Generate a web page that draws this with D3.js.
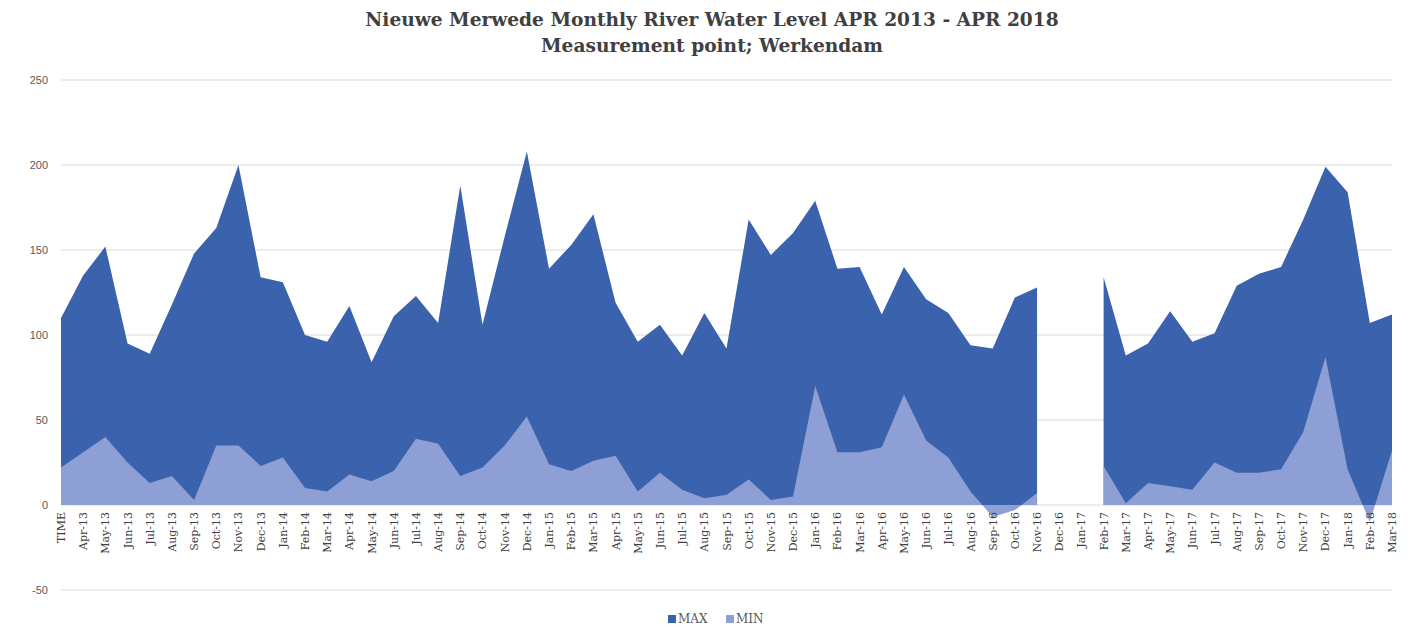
<!DOCTYPE html>
<html>
<head>
<meta charset="utf-8">
<script src="https://cdn.jsdelivr.net/npm/d3@7"></script>
<style>
  html, body { margin: 0; padding: 0; background: #ffffff; }
  svg { display: block; }
</style>
</head>
<body>
<svg id="chart" width="1413" height="627"></svg>
<script>
const categories = ["TIME","Apr-13","May-13","Jun-13","Jul-13","Aug-13","Sep-13","Oct-13","Nov-13","Dec-13",
  "Jan-14","Feb-14","Mar-14","Apr-14","May-14","Jun-14","Jul-14","Aug-14","Sep-14","Oct-14","Nov-14","Dec-14",
  "Jan-15","Feb-15","Mar-15","Apr-15","May-15","Jun-15","Jul-15","Aug-15","Sep-15","Oct-15","Nov-15","Dec-15",
  "Jan-16","Feb-16","Mar-16","Apr-16","May-16","Jun-16","Jul-16","Aug-16","Sep-16","Oct-16","Nov-16","Dec-16",
  "Jan-17","Feb-17","Mar-17","Apr-17","May-17","Jun-17","Jul-17","Aug-17","Sep-17","Oct-17","Nov-17","Dec-17",
  "Jan-18","Feb-18","Mar-18"];

const maxValues = [110,135,152,95,89,118,148,163,200,134,
  131,100,96,117,84,111,123,107,188,106,158,208,
  139,153,171,119,96,106,88,113,92,168,147,160,
  179,139,140,112,140,121,113,94,92,122,128,null,
  null,134,88,95,114,96,101,129,136,140,168,199,
  184,107,112];

const minValues = [22,31,40,25,13,17,3,35,35,23,
  28,10,8,18,14,20,39,36,17,22,35,52,
  24,20,26,29,8,19,9,4,6,15,3,5,
  70,31,31,34,65,38,28,8,-7,-3,7,null,
  null,23,1,13,11,9,25,19,19,21,43,87,
  21,-10,32];

const yTicks = [-50,0,50,100,150,200,250];

const titleLines = ["Nieuwe Merwede Monthly River Water Level APR 2013 - APR 2018", "Measurement point; Werkendam"];
const seriesNames = ["MAX","MIN"];
const seriesColors = ["#3b62ad","#8d9fd4"];

const svg = d3.select("#chart");
const plotLeft = 61, plotRight = 1392, plotTop = 80, plotBottom = 590;

const x = d3.scalePoint().domain(categories).range([plotLeft, plotRight]);
const y = d3.scaleLinear().domain([-50, 250]).range([plotBottom, plotTop]);

// gridlines
svg.append("g").selectAll("line").data(yTicks).join("line")
  .attr("x1", plotLeft).attr("x2", plotRight)
  .attr("y1", d => y(d)).attr("y2", d => y(d))
  .attr("stroke", "#d9d9d9").attr("stroke-width", 1);

// y labels
svg.append("g").selectAll("text").data(yTicks).join("text")
  .attr("x", 48).attr("y", d => y(d) + 4)
  .attr("text-anchor", "end")
  .attr("font-family", "Liberation Sans, Arial, sans-serif")
  .attr("font-size", 11).attr("fill", "#595959")
  .text(d => d);

const mkArea = vals => d3.area()
  .defined((d, i) => vals[i] !== null)
  .x((d, i) => x(categories[i]))
  .y0(y(0))
  .y1((d, i) => y(vals[i]));

svg.append("path")
  .attr("d", mkArea(maxValues)(maxValues))
  .attr("fill", seriesColors[0]);
svg.append("path")
  .attr("d", mkArea(minValues)(minValues))
  .attr("fill", seriesColors[1]);

// x labels
svg.append("g").selectAll("text").data(categories).join("text")
  .attr("transform", d => `translate(${x(d) + 4},512) rotate(-90)`)
  .attr("text-anchor", "end")
  .attr("font-family", "DejaVu Serif, serif")
  .attr("font-size", 11).attr("fill", "#404040")
  .text(d => d);

// title
svg.append("g").selectAll("text").data(titleLines).join("text")
  .attr("x", 712).attr("y", (d, i) => 26 + i * 26)
  .attr("text-anchor", "middle")
  .attr("font-family", "DejaVu Serif, serif")
  .attr("font-weight", "bold")
  .attr("font-size", 18.6).attr("fill", "#404040")
  .text(d => d);

// legend
const lg = svg.append("g");
const legX = [668, 726];
seriesNames.forEach((n, i) => {
  lg.append("rect").attr("x", legX[i]).attr("y", 615).attr("width", 8).attr("height", 8).attr("fill", seriesColors[i]);
  lg.append("text").attr("x", legX[i] + 10).attr("y", 623)
    .attr("font-family", "DejaVu Serif, serif").attr("font-size", 12).attr("fill", "#595959")
    .text(n);
});
</script>
</body>
</html>
